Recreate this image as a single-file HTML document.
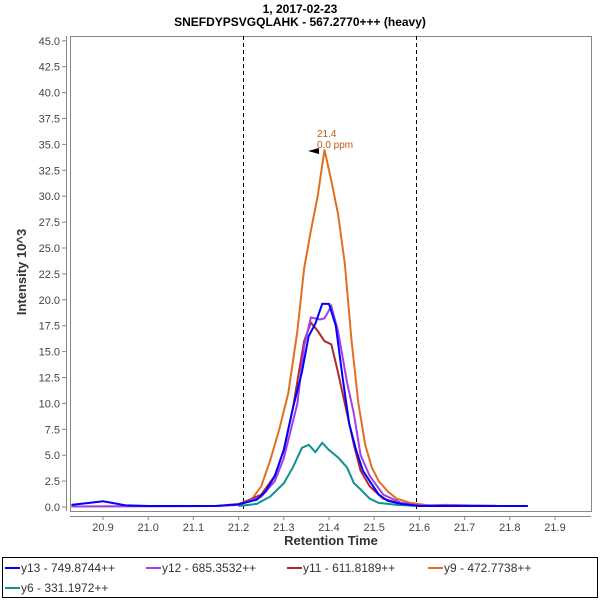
<!DOCTYPE html>
<html><head><meta charset="utf-8"><style>
body{margin:0;background:#fff;}
svg text{font-family:"Liberation Sans","DejaVu Sans",sans-serif;}
</style></head><body>
<svg id="s" width="600" height="600" xmlns="http://www.w3.org/2000/svg">
<rect width="600" height="600" fill="#fff"/>
<text x="300" y="13" text-anchor="middle" font-size="12" font-weight="bold">1, 2017-02-23</text>
<text x="300" y="26" text-anchor="middle" font-size="12" font-weight="bold">SNEFDYPSVGQLAHK - 567.2770+++ (heavy)</text>
<rect x="70.5" y="36.5" width="521" height="475" fill="#fff" stroke="#888" stroke-width="1"/>
<g id="ax"></g>
<line x1="243.5" y1="36" x2="243.5" y2="511" stroke="#000" stroke-width="1" stroke-dasharray="4,3"/>
<line x1="416.5" y1="36" x2="416.5" y2="511" stroke="#000" stroke-width="1" stroke-dasharray="4,3"/>
<g id="series" fill="none" stroke-width="2"></g>
<polygon points="308,151 319,148 319,154" fill="#000"/>
<text x="317" y="137" font-size="10" fill="#c05a10">21.4</text>
<text x="317" y="148" font-size="10" fill="#c05a10">0.0 ppm</text>
<text x="331" y="545" text-anchor="middle" font-size="13" font-weight="bold" fill="#333">Retention Time</text>
<text transform="translate(26,272) rotate(-90)" text-anchor="middle" font-size="13" font-weight="bold" fill="#333">Intensity 10^3</text>
<rect x="2.5" y="557.5" width="595" height="40" fill="#fff" stroke="#000"/>
<g font-size="12" fill="#333">
<line x1="5" y1="568" x2="20" y2="568" stroke="#0000ff" stroke-width="2"/><text x="21" y="572">y13 - 749.8744++</text>
<line x1="146" y1="568" x2="161" y2="568" stroke="#a040e8" stroke-width="2"/><text x="162" y="572">y12 - 685.3532++</text>
<line x1="287" y1="568" x2="302" y2="568" stroke="#b02828" stroke-width="2"/><text x="303" y="572">y11 - 611.8189++</text>
<line x1="428" y1="568" x2="443" y2="568" stroke="#e07020" stroke-width="2"/><text x="444" y="572">y9 - 472.7738++</text>
<line x1="5" y1="588" x2="20" y2="588" stroke="#109090" stroke-width="2"/><text x="21" y="592">y6 - 331.1972++</text>
</g>
</svg>
<script>
var X=t=>103+(t-20.9)*452, Y=v=>507-v*10.36;
var ax=document.getElementById('ax'),h='';
h+='<line x1="66.5" y1="36" x2="66.5" y2="511" stroke="#888"/>';
h+='<line x1="70" y1="516.5" x2="591" y2="516.5" stroke="#888"/>';
for(var i=0;i<=18;i++){var v=i*2.5,y=Y(v);h+='<line x1="62" x2="66" y1="'+y+'" y2="'+y+'" stroke="#888"/><text x="60" y="'+(y+4)+'" text-anchor="end" font-size="11" fill="#444">'+v.toFixed(1)+'</text>';}
for(var i=0;i<11;i++){var t=20.9+i*0.1,x=X(t);h+='<line x1="'+x+'" x2="'+x+'" y1="516" y2="520" stroke="#888"/><text x="'+x+'" y="531" text-anchor="middle" font-size="11" fill="#444">'+t.toFixed(1)+'</text>';}
ax.innerHTML=h;
var S=[
['#e07020',[[20.83,0.05],[21.15,0.1],[21.2,0.3],[21.23,0.8],[21.25,2],[21.27,4.5],[21.29,7.5],[21.31,11],[21.33,17],[21.345,23],[21.36,26.7],[21.375,30],[21.39,34.5],[21.405,31.5],[21.42,28.3],[21.435,23.5],[21.45,16],[21.465,10],[21.48,6],[21.495,3.8],[21.51,2.5],[21.53,1.5],[21.55,0.8],[21.58,0.4],[21.62,0.15],[21.66,0.2],[21.7,0.15],[21.77,0.12]]],
['#109090',[[21.2,0.1],[21.24,0.3],[21.27,1],[21.3,2.3],[21.32,3.8],[21.34,5.7],[21.355,6],[21.37,5.3],[21.385,6.2],[21.4,5.5],[21.42,4.8],[21.44,3.8],[21.455,2.3],[21.47,1.7],[21.49,0.8],[21.51,0.4],[21.55,0.2],[21.6,0.1]]],
['#b02828',[[21.2,0.2],[21.25,1.2],[21.28,3],[21.3,5.5],[21.32,9.5],[21.345,16],[21.36,17.8],[21.375,17],[21.39,16],[21.405,15.7],[21.42,13],[21.44,9],[21.455,6],[21.47,3.5],[21.49,2],[21.52,0.8],[21.56,0.3],[21.6,0.1]]],
['#a040e8',[[20.83,0.05],[21.15,0.1],[21.2,0.2],[21.25,1],[21.28,2.5],[21.3,4.7],[21.33,10],[21.345,15.5],[21.36,18.3],[21.38,18.1],[21.39,18.2],[21.405,19.4],[21.42,17],[21.44,12],[21.455,9],[21.47,5],[21.49,3],[21.52,1.2],[21.56,0.4],[21.6,0.15],[21.7,0.15],[21.76,0.1]]],
['#0000ff',[[20.83,0.2],[20.87,0.4],[20.9,0.55],[20.92,0.4],[20.95,0.15],[21.0,0.1],[21.15,0.1],[21.2,0.25],[21.24,0.7],[21.26,1.5],[21.28,3],[21.3,5.5],[21.32,9.5],[21.34,13],[21.355,16.5],[21.37,17.7],[21.385,19.6],[21.4,19.6],[21.415,17.5],[21.43,12.5],[21.445,8],[21.46,5.5],[21.475,3.5],[21.49,2.5],[21.51,1.2],[21.53,0.6],[21.56,0.3],[21.6,0.1],[21.84,0.1]]]
];
var g='';S.forEach(s=>{g+='<polyline stroke="'+s[0]+'" points="'+s[1].map(p=>X(p[0]).toFixed(1)+','+Y(p[1]).toFixed(1)).join(' ')+'"/>';});
document.getElementById('series').innerHTML=g;
</script>
</body></html>
